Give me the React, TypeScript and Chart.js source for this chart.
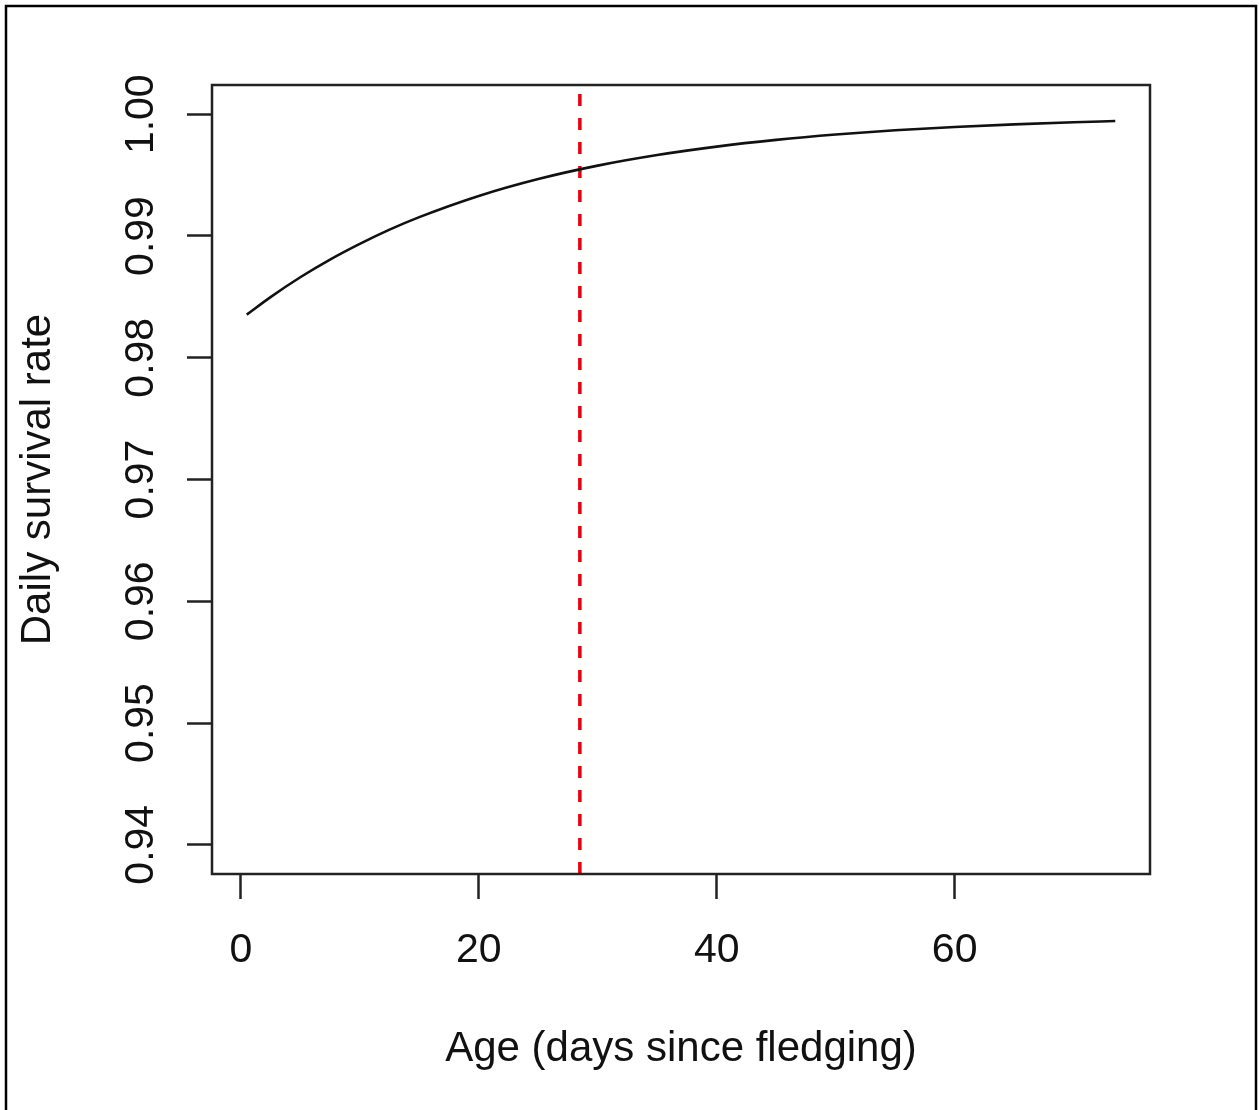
import { useEffect, useRef } from "react";
import { Chart, registerables } from "chart.js";

Chart.register(...registerables);

// Data
const ageDays = [0.5, 2.5, 5, 7.5, 10, 12.5, 15, 20, 25, 30, 35, 40, 45, 50, 55, 60, 65, 70, 73.5];
const survivalRate = [
  0.98354, 0.98498, 0.98661, 0.98806, 0.98935, 0.99052, 0.99155, 0.99329, 0.99468, 0.99578,
  0.99665, 0.99734, 0.99789, 0.99833, 0.99868, 0.99895, 0.99917, 0.99934, 0.99944,
];
const cutoffAge = [28.5, 28.5];
const cutoffRate = [0.9376, 1.0024];
const xTickValues = [0, 20, 40, 60];
const yTickValues = [0.94, 0.95, 0.96, 0.97, 0.98, 0.99, 1.0];
const yTickLabels = ["0.94", "0.95", "0.96", "0.97", "0.98", "0.99", "1.00"];
const xRange = [-2.42, 76.42];
const yRange = [0.9376, 1.0024];
const xTitle = "Age (days since fledging)";
const yTitle = "Daily survival rate";

const FONT = "'Liberation Sans', Arial, Helvetica, sans-serif";
const W = 1259;
const H = 1110;

const framePlugin = {
  id: "frame",
  afterDraw(chart: any) {
    const { ctx, chartArea } = chart;
    ctx.save();
    // outer figure border
    ctx.strokeStyle = "#000";
    ctx.lineWidth = 2.5;
    ctx.strokeRect(6, 6, 1250, 1120);
    // plot box
    ctx.strokeStyle = "#222";
    ctx.lineWidth = 2.5;
    ctx.strokeRect(chartArea.left, chartArea.top, chartArea.right - chartArea.left, chartArea.bottom - chartArea.top);
    // rotated y tick labels
    const ys = chart.scales.y;
    ctx.fillStyle = "#111";
    ctx.font = `41px ${FONT}`;
    ctx.textAlign = "center";
    ctx.textBaseline = "alphabetic";
    yTickValues.forEach((v, i) => {
      const py = ys.getPixelForValue(v);
      ctx.save();
      ctx.translate(153, py);
      ctx.rotate(-Math.PI / 2);
      ctx.fillText(yTickLabels[i], 0, 0);
      ctx.restore();
    });
    ctx.restore();
  },
};

export default function App() {
  const ref = useRef<HTMLCanvasElement | null>(null);
  useEffect(() => {
    document.body.style.margin = "0";
    const canvas = ref.current;
    if (!canvas) return;
    const chart = new Chart(canvas, {
      type: "line",
      data: {
        datasets: [
          {
            label: "Daily survival rate",
            data: ageDays.map((a, i) => ({ x: a, y: survivalRate[i] })),
            borderColor: "#111",
            borderWidth: 2.6,
            pointRadius: 0,
            fill: false,
            cubicInterpolationMode: "monotone",
          },
          {
            label: "Cutoff",
            data: cutoffAge.map((a, i) => ({ x: a, y: cutoffRate[i] })),
            borderColor: "#e8000b",
            borderWidth: 3.5,
            borderDash: [12, 12],
            pointRadius: 0,
            fill: false,
          },
        ],
      },
      options: {
        responsive: false,
        animation: false,
        devicePixelRatio: 1,
        layout: { padding: { left: 0, right: 109, top: 85, bottom: 0 } },
        plugins: { legend: { display: false }, tooltip: { enabled: false } },
        scales: {
          x: {
            type: "linear",
            min: xRange[0],
            max: xRange[1],
            afterBuildTicks: (s: any) => {
              s.ticks = xTickValues.map((v) => ({ value: v }));
            },
            afterFit: (s: any) => {
              s.height = 236;
            },
            border: { display: false },
            grid: {
              drawOnChartArea: false,
              drawTicks: true,
              tickLength: 25,
              tickColor: "#222",
              tickWidth: 2.5,
            },
            ticks: {
              autoSkip: false,
              maxRotation: 0,
              minRotation: 0,
              padding: 27,
              color: "#111",
              font: { family: FONT, size: 41 },
              callback: (v: any) => String(v),
            },
            title: {
              display: true,
              text: xTitle,
              color: "#111",
              font: { family: FONT, size: 42 },
              padding: { top: 0, bottom: 35 },
            },
          },
          y: {
            type: "linear",
            min: yRange[0],
            max: yRange[1],
            afterBuildTicks: (s: any) => {
              s.ticks = yTickValues.map((v) => ({ value: v }));
            },
            afterFit: (s: any) => {
              s.width = 212;
            },
            border: { display: false },
            grid: {
              drawOnChartArea: false,
              drawTicks: true,
              tickLength: 25,
              tickColor: "#222",
              tickWidth: 2.5,
            },
            ticks: { display: false },
            title: {
              display: true,
              text: yTitle,
              color: "#111",
              font: { family: FONT, size: 42 },
              padding: { top: 13, bottom: 0 },
            },
          },
        },
      },
      plugins: [framePlugin],
    });
    return () => chart.destroy();
  }, []);
  return (
    <div style={{ width: W, height: H, background: "#fff" }}>
      <canvas ref={ref} width={W} height={H} style={{ display: "block" }} />
    </div>
  );
}
